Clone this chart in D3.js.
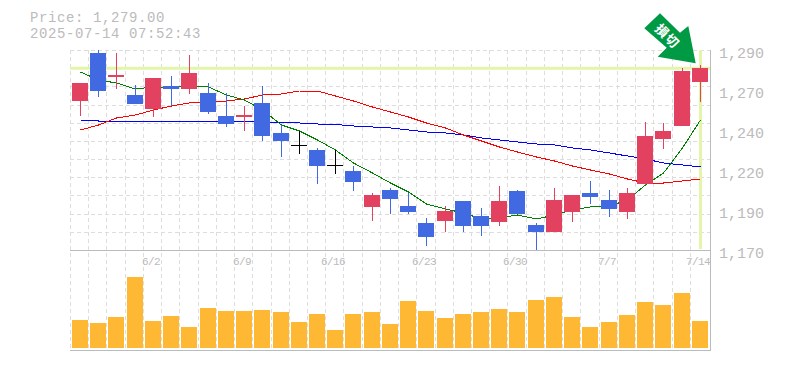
<!DOCTYPE html>
<html lang="en">

<head>
	<meta charset="UTF-8">
	<title>Candlestick chart</title>
	<script src="https://d3js.org/d3.v7.min.js"></script>
	<style>
		body { margin: 0; background: #fff; }
		svg { display: block; }
		text { font-family: "Liberation Mono", monospace; fill: #bbb; }
	</style>
</head>

<body>
	<div id="chart"></div>
	<script>
		const dates = ["5/27", "5/28", "5/29", "5/30", "6/2", "6/3", "6/4", "6/5", "6/6", "6/9", "6/10", "6/11", "6/12", "6/13", "6/16", "6/17", "6/18", "6/19", "6/20", "6/23", "6/24", "6/25", "6/26", "6/27", "6/30", "7/1", "7/2", "7/3", "7/4", "7/7", "7/8", "7/9", "7/10", "7/11", "7/14"];
		const dateTicks = ["6/2", "6/9", "6/16", "6/23", "6/30", "7/7", "7/14"];
		const priceTicks = [1290, 1266, 1242, 1218, 1194, 1170];

		const opens = [1259.4, 1288.2, 1273.8, 1263, 1254.6, 1268.4, 1266.6, 1264.2, 1250.4, 1249.8, 1258.2, 1240.2, 1233, 1230, 1221, 1217.4, 1195.8, 1206, 1196.4, 1186.2, 1187.4, 1199.4, 1190.4, 1186.8, 1205.4, 1185, 1180.8, 1192.8, 1204.2, 1200, 1192.8, 1209.6, 1236.6, 1244.4, 1270.8];
		const closes = [1270.2, 1265.4, 1275, 1257.6, 1273.2, 1266.6, 1276.2, 1252.8, 1245.6, 1251, 1238.4, 1235.4, 1233, 1220.4, 1221, 1210.8, 1203, 1200.6, 1192.8, 1177.8, 1193.4, 1184.4, 1184.4, 1199.4, 1191.6, 1180.8, 1200, 1203, 1201.8, 1194.6, 1204.2, 1238.4, 1241.4, 1277.4, 1279.2];
		const highs = [1270.2, 1290, 1288.2, 1269, 1273.2, 1274.4, 1287, 1270.2, 1264.2, 1256.4, 1268.4, 1245, 1241.4, 1231.2, 1230, 1220.4, 1204.2, 1207.2, 1204.2, 1189.2, 1196.4, 1199.4, 1195.2, 1208.4, 1206, 1186.2, 1207.2, 1203, 1211.4, 1206, 1207.2, 1246.8, 1246.2, 1279.2, 1281];
		const lows = [1250.4, 1261.8, 1266.6, 1257.6, 1249.8, 1256.4, 1263.6, 1251.6, 1243.8, 1241.4, 1235.4, 1225.8, 1227.6, 1209.6, 1215.6, 1205.4, 1187.4, 1191.6, 1191.6, 1172.4, 1180.8, 1180.8, 1178.4, 1184.4, 1191.6, 1170, 1180.8, 1186.8, 1197.6, 1189.8, 1188.6, 1209, 1230.6, 1244.4, 1258.8];

		const maShort = [1276.8, 1272, 1270.2, 1266.6, 1267.8, 1267.8, 1268.4, 1267.8, 1263, 1260, 1254, 1245, 1241.4, 1236, 1230, 1222.2, 1216.2, 1210.2, 1204.8, 1197.6, 1194.6, 1192.2, 1188.6, 1189.2, 1191, 1188.6, 1191, 1194, 1195.8, 1196.4, 1200, 1209, 1216.2, 1231.2, 1248];
		const maMid = [1242, 1245, 1249.2, 1251, 1254, 1256.4, 1258.2, 1258.8, 1259.4, 1260.6, 1263, 1263.6, 1265.4, 1265.4, 1262.4, 1259.4, 1255.8, 1252.8, 1249.8, 1246.2, 1243.2, 1239, 1235.4, 1231.8, 1228.8, 1225.8, 1223.4, 1220.4, 1218, 1215.6, 1212.6, 1210.2, 1210.2, 1211.4, 1212.6];
		const maLong = [1248, 1247.4, 1247.4, 1247.4, 1247.4, 1247.4, 1247.4, 1247.4, 1247.4, 1247.4, 1246.8, 1246.5, 1246.2, 1245.6, 1245.3, 1244.4, 1243.8, 1243.2, 1242, 1240.8, 1240.2, 1239, 1237.2, 1236, 1234.8, 1233.6, 1233, 1231.2, 1230, 1228.2, 1226.4, 1224.6, 1222.2, 1221, 1219.8];

		const volumes = [28, 25, 31, 71, 27, 32, 21, 40, 37, 37, 38, 36, 26, 34, 18, 34, 36, 24, 47, 37, 30, 34, 36, 39, 36, 48, 51, 31, 21, 26, 33, 46, 43, 55, 27];

		const currentPrice = 1279;
		const priceText = "Price: 1,279.00";
		const timeText = "2025-07-14 07:52:43";
		const signalText = "損切";

		const width = 785, height = 370;
		const left = 70, right = 710, priceTop = 50, priceBottom = 250, volBottom = 350;
		const gridRows = 11;

		const svg = d3.select("#chart").append("svg")
			.attr("width", width)
			.attr("height", height);

		const x = d3.scaleBand().domain(dates).range([left, 708]);
		const y = d3.scaleLinear().domain([1170, 1290]).range([priceBottom, priceTop]);
		const yVol = d3.scaleLinear().domain([0, 100]).range([348, 248]);

		const bodyLeft = d => Math.round(x(d)) + 2;
		const mid = d => bodyLeft(d) + 8;

		// grid
		const grid = svg.append("g")
			.attr("stroke", "#ddd")
			.attr("stroke-dasharray", "4,3")
			.attr("shape-rendering", "crispEdges");
		grid.selectAll(".gx")
			.data(dates)
			.enter().append("line")
			.attr("x1", d => Math.round(x(d)) + 0.5)
			.attr("x2", d => Math.round(x(d)) + 0.5)
			.attr("y1", priceTop)
			.attr("y2", volBottom);
		grid.selectAll(".gy")
			.data(d3.range(gridRows))
			.enter().append("line")
			.attr("x1", left)
			.attr("x2", right)
			.attr("y1", i => Math.round(priceTop + i * (priceBottom - priceTop) / gridRows) + 0.5)
			.attr("y2", i => Math.round(priceTop + i * (priceBottom - priceTop) / gridRows) + 0.5);

		// current price highlight
		const hl = svg.append("g").attr("stroke", "#e3f5a8").attr("stroke-width", 3);
		hl.append("line")
			.attr("x1", left).attr("x2", right)
			.attr("y1", y(currentPrice)).attr("y2", y(currentPrice));
		hl.append("line")
			.attr("x1", mid(dates[34]) + 0.5).attr("x2", mid(dates[34]) + 0.5)
			.attr("y1", priceTop).attr("y2", priceBottom - 1);

		// frame lines
		const frame = svg.append("g").attr("stroke", "#bbb").attr("shape-rendering", "crispEdges");
		frame.append("line").attr("x1", left).attr("x2", right + 1).attr("y1", priceBottom + 0.5).attr("y2", priceBottom + 0.5);
		frame.append("line").attr("x1", left).attr("x2", right + 1).attr("y1", volBottom + 0.5).attr("y2", volBottom + 0.5);
		frame.append("line").attr("x1", right + 0.5).attr("x2", right + 0.5).attr("y1", priceTop).attr("y2", volBottom);

		// moving averages, under the candles
		const maLine = d3.line()
			.x((d, i) => mid(dates[i]) + 0.5)
			.y(d => y(d));
		[[maLong, "#0000ff"], [maMid, "#ff0000"], [maShort, "#008000"]].forEach(([vals, color]) => {
			svg.append("path")
				.attr("d", maLine(vals))
				.attr("fill", "none")
				.attr("stroke", color)
				.attr("shape-rendering", "crispEdges");
		});

		// candles
		const candleColor = i => closes[i] > opens[i] ? "#e2425f" : closes[i] < opens[i] ? "#4169e1" : "#000";
		const candles = svg.append("g").attr("shape-rendering", "crispEdges");
		candles.selectAll(".wick")
			.data(dates)
			.enter().append("line")
			.attr("class", "wick")
			.attr("x1", d => mid(d) + 0.5)
			.attr("x2", d => mid(d) + 0.5)
			.attr("y1", (d, i) => y(highs[i]))
			.attr("y2", (d, i) => y(lows[i]))
			.attr("stroke", (d, i) => candleColor(i));
		candles.selectAll(".body")
			.data(dates)
			.enter().append("rect")
			.attr("class", "body")
			.attr("x", d => bodyLeft(d))
			.attr("width", 16)
			.attr("y", (d, i) => y(Math.max(opens[i], closes[i])))
			.attr("height", (d, i) => Math.max(1, y(Math.min(opens[i], closes[i])) - y(Math.max(opens[i], closes[i]))))
			.attr("fill", (d, i) => candleColor(i));

		// volume
		svg.selectAll(".vol")
			.data(dates)
			.enter().append("rect")
			.attr("class", "vol")
			.attr("x", d => bodyLeft(d))
			.attr("width", 16)
			.attr("y", (d, i) => yVol(volumes[i]))
			.attr("height", (d, i) => yVol(0) - yVol(volumes[i]))
			.attr("fill", "#ffb833")
			.attr("shape-rendering", "crispEdges");

		// axis labels
		svg.append("g")
			.attr("transform", `translate(${right},0)`)
			.call(d3.axisRight(y)
				.tickValues(priceTicks)
				.tickSize(0)
				.tickPadding(9)
				.tickFormat(d => d3.format(",")(Math.round(d / 10) * 10)))
			.call(g => g.select(".domain").remove())
			.selectAll("text")
			.attr("dy", 7)
			.style("font-family", '"Liberation Mono", monospace')
			.style("font-size", "15px")
			.style("fill", "#bbb");

		svg.selectAll(".date")
			.data(dateTicks)
			.enter().append("text")
			.attr("class", "date")
			.attr("x", d => mid(d) - 2)
			.attr("y", priceBottom + 15)
			.attr("text-anchor", "middle")
			.style("font-size", "11px")
			.style("letter-spacing", "-0.6px")
			.text(d => d);

		svg.append("text").attr("x", 30).attr("y", 22).style("font-size", "14px").style("letter-spacing", "0.6px").text(priceText);
		svg.append("text").attr("x", 30).attr("y", 38).style("font-size", "14px").style("letter-spacing", "0.6px").text(timeText);

		// signal arrow, placed from the last candle
		const tipX = mid(dates[34]) - 4.3, tipY = y(closes[34]) - 4.7;
		const arrow = svg.append("g").attr("transform", `translate(${tipX},${tipY})`);
		arrow.append("path")
			.attr("d", "M0,0L-38,-6.6L-29,-15.6L-51.4,-35L-35.7,-50L-15.7,-30.6L-7.4,-37.3Z")
			.attr("fill", "#009944");
		arrow.append("text")
			.attr("transform", "translate(-28.5,-27) rotate(45)")
			.attr("text-anchor", "middle")
			.attr("dy", 4.5)
			.style("font-family", '"Noto Sans CJK JP", sans-serif')
			.style("font-size", "13px")
			.style("font-weight", "700")
			.style("letter-spacing", "1px")
			.style("fill", "#fff")
			.text(signalText);
	</script>
</body>

</html>
